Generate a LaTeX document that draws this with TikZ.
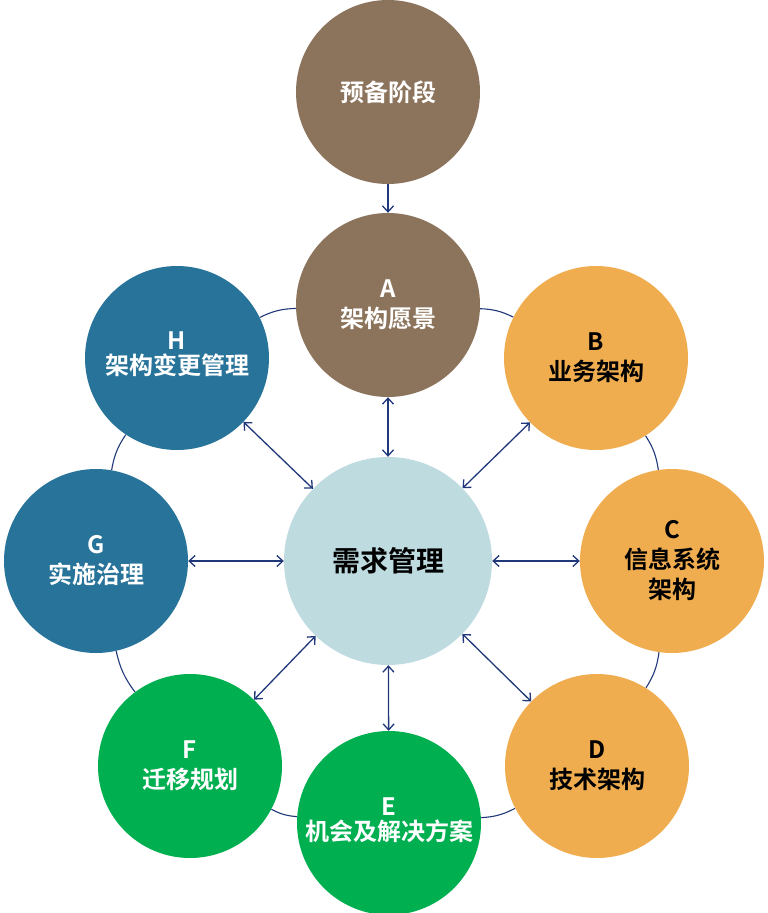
\documentclass[tikz,border=0pt]{standalone}
\usepackage{fontspec}
\setmainfont{Noto Sans CJK SC Bold}
\usetikzlibrary{arrows.meta,backgrounds}

\definecolor{phasebrown}{RGB}{140,115,91}
\definecolor{phaseblue}{RGB}{40,115,153}
\definecolor{phaseorange}{RGB}{240,173,80}
\definecolor{phasegreen}{RGB}{0,175,80}
\definecolor{reqblue}{RGB}{190,219,224}
\definecolor{linknavy}{RGB}{32,56,122}

\tikzset{
  phase/.style={circle,minimum size=184pt,inner sep=0pt,align=center,
    font=\fontsize{24}{30}\selectfont},
  req/.style={circle,minimum size=208pt,inner sep=0pt,fill=reqblue,
    font=\fontsize{28}{32}\selectfont},
  link/.style={linknavy,line width=1.3pt},
  twoway/.style={link,{Straight Barb[length=6pt,width=11pt]}-{Straight Barb[length=6pt,width=11pt]}},
  oneway/.style={link,-{Straight Barb[length=6pt,width=11pt]}}
}

\begin{document}
\begin{tikzpicture}[x=1pt,y=-1pt]
  \useasboundingbox (0,0) rectangle (768,913);

% phases round the cycle
  \node[phase,fill=phasebrown,text=white]  (prelim) at (388,92)  {预备阶段};
  \node[phase,fill=phasebrown,text=white]  (pA)     at (388,305) {A\\架构愿景};
  \node[phase,fill=phaseorange,text=black] (pB)     at (596,358) {B\\业务架构};
  \node[phase,fill=phaseorange,text=black] (pC)     at (672,561) {C\\信息系统\\架构};
  \node[phase,fill=phaseorange,text=black] (pD)     at (597,766) {D\\技术架构};
  \node[phase,fill=phasegreen,text=white]  (pE)     at (389,823) {\raisebox{8pt}{\shortstack{E\\[2pt]机会及解决方案}}};
  \node[phase,fill=phasegreen,text=white]  (pF)     at (190,766) {F\\迁移规划};
  \node[phase,fill=phaseblue,text=white]   (pG)     at (96,561)  {G\\实施治理};
  \node[phase,fill=phaseblue,text=white]   (pH)     at (177,358) {\raisebox{10pt}{\shortstack{H\\[2pt]架构变更管理}}};

% requirements management in the middle
  \node[req] (req) at (388,561) {需求管理};

% ring between neighbouring phases
  \begin{scope}[on background layer]
    \foreach \a/\b in {pA/pB,pB/pC,pC/pD,pD/pE,pE/pF,pF/pG,pG/pH,pH/pA}
      \draw[link,line width=1.1pt] (\a) to[bend left=12] (\b);
  \end{scope}

% arrows
  \draw[oneway] (prelim) -- (pA);
  \foreach \p in {pA,pB,pC,pD,pE,pF,pG,pH}
    \draw[twoway] (req) -- (\p);

\end{tikzpicture}
\end{document}
